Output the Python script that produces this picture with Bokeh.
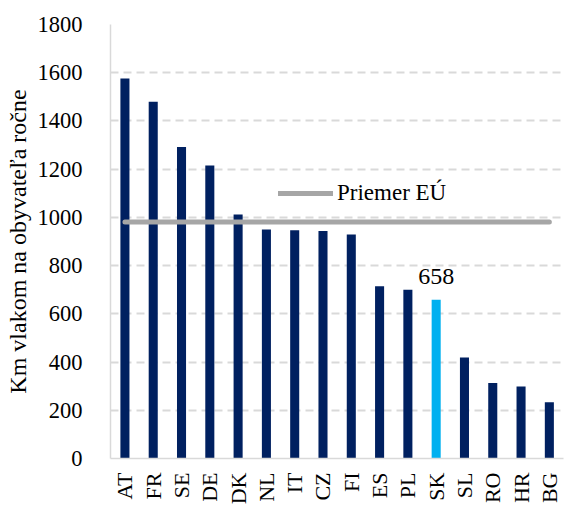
from bokeh.plotting import figure
from bokeh.models import Range1d, FixedTicker, ColumnDataSource, Legend, LegendItem
from bokeh.core.properties import value
from bokeh.embed import file_html
from bokeh.resources import INLINE

countries = ["AT", "FR", "SE", "DE", "DK", "NL", "IT", "CZ", "FI", "ES", "PL", "SK", "SL", "RO", "HR", "BG"]
km_per_capita = [1576, 1480, 1292, 1215, 1012, 950, 947, 944, 929, 714, 700, 658, 419, 313, 299, 233]
eu_average = 981
y_ticks = [0, 200, 400, 600, 800, 1000, 1200, 1400, 1600, 1800]
highlight = "SK"
y_label = "Km vlakom na obyvateľa ročne"
legend_label = "Priemer EÚ"

NAVY = "#002060"
LIGHT = "#00B0F0"
GREY = "#A6A6A6"
GRID = "#D9D9D9"
FONT = "Liberation Serif"

xs = list(range(len(countries)))
colors = [LIGHT if c == highlight else NAVY for c in countries]
src = ColumnDataSource(dict(x=xs, v=km_per_capita, c=colors, name=countries))

p = figure(width=564, height=507, output_backend="svg", toolbar_location=None,
           x_range=Range1d(-0.51, 15.5), y_range=Range1d(0, 1800),
           min_border_left=110, min_border_right=1, min_border_top=24, min_border_bottom=46)
p.outline_line_color = None
p.background_fill_color = "white"

p.vbar(x="x", top="v", width=0.32, fill_color="c", line_color=None, source=src)

eu_line = p.line(x=xs, y=[eu_average] * len(xs), line_color=GREY, line_width=5, line_cap="round")

# label for highlighted bar
i = countries.index(highlight)
lab = ColumnDataSource(dict(x=[xs[i]], y=[km_per_capita[i]], t=[str(km_per_capita[i])]))
p.text(x="x", y="y", text="t", source=lab, text_align="center", text_baseline="alphabetic",
       y_offset=-23, text_font=value(FONT), text_font_size="24px", text_color="black")

legend = Legend(items=[LegendItem(label=legend_label, renderers=[eu_line])],
                location=(168, 252), orientation="vertical",
                border_line_color=None, background_fill_alpha=0,
                label_text_font=FONT, label_text_font_size="23px", label_text_color="black",
                glyph_width=55, glyph_height=26, label_height=26, label_standoff=4,
                padding=0, margin=0, spacing=0)
p.add_layout(legend, "center")

# axes
p.xaxis.ticker = FixedTicker(ticks=xs)
p.xaxis.major_label_overrides = {x: c for x, c in zip(xs, countries)}
p.xaxis.major_label_orientation = 1.5708
p.xaxis.major_label_text_font = FONT
p.xaxis.major_label_text_font_size = "22px"
p.xaxis.major_label_text_color = "black"
p.xaxis.major_label_standoff = 8
p.xaxis.major_tick_line_color = None
p.xaxis.minor_tick_line_color = None
p.xaxis.axis_line_color = GRID
p.xaxis.axis_line_width = 1.5

p.yaxis.ticker = FixedTicker(ticks=y_ticks)
p.yaxis.major_label_text_font = FONT
p.yaxis.major_label_text_font_size = "22.5px"
p.yaxis.major_label_text_color = "black"
p.yaxis.major_label_standoff = 22
p.yaxis.major_tick_line_color = None
p.yaxis.minor_tick_line_color = None
p.yaxis.axis_line_color = GRID
p.yaxis.axis_line_width = 1.5
p.yaxis.axis_label = y_label
p.yaxis.axis_label_text_font = FONT
p.yaxis.axis_label_text_font_size = "24px"
p.yaxis.axis_label_text_font_style = "normal"
p.yaxis.axis_label_text_color = "black"
p.yaxis.axis_label_standoff = 4

p.xgrid.grid_line_color = None
p.ygrid.ticker = FixedTicker(ticks=y_ticks)
p.ygrid.grid_line_color = GRID
p.ygrid.grid_line_width = 2
p.ygrid.grid_line_dash = "8 5"

open("out.html", "w").write(file_html(p, INLINE))
